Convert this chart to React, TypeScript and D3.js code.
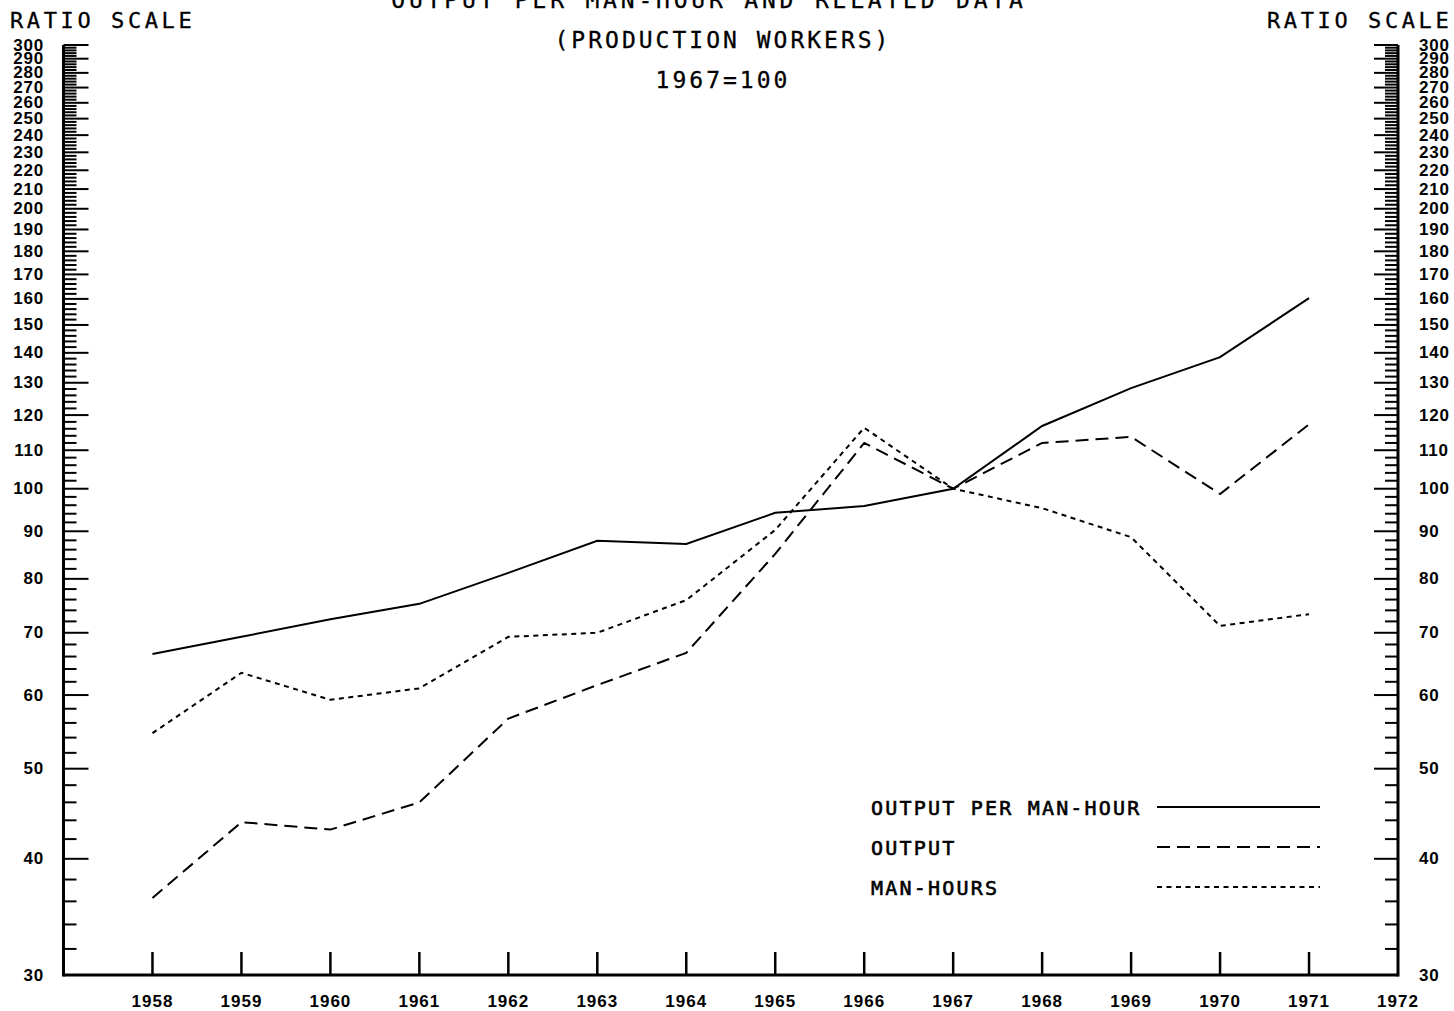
import React from "react";
import * as d3 from "d3";

const years = [1958, 1959, 1960, 1961, 1962, 1963, 1964, 1965, 1966, 1967, 1968, 1969, 1970, 1971];
const outputPerManHour = [66.4, 69.3, 72.4, 75.2, 81.2, 87.9, 87.2, 94.2, 95.8, 100, 116.8, 128.3, 138.5, 160.3];
const output = [36.3, 43.8, 43.0, 46.0, 56.6, 61.5, 66.6, 85.1, 112, 100, 112, 113.7, 98.7, 117.3];
const manHours = [54.6, 63.4, 59.3, 61.0, 69.3, 70.0, 75.9, 90.3, 116.3, 100, 95.3, 88.7, 71.2, 73.3];
const xTickLabels = [1958, 1959, 1960, 1961, 1962, 1963, 1964, 1965, 1966, 1967, 1968, 1969, 1970, 1971, 1972];
const majorTicks = d3.range(30, 301, 10);
const minorTicks = d3.range(30, 301, 2).filter((v) => v % 10 !== 0);
const titleLines = ["OUTPUT PER MAN-HOUR AND RELATED DATA", "(PRODUCTION WORKERS)", "1967=100"];
const seriesNames = ["OUTPUT PER MAN-HOUR", "OUTPUT", "MAN-HOURS"];

const W = 1454;
const H = 1011;
const left = 63.5;
const right = 1398;
const top = 45;
const bottom = 975;

const monoFont = "'DejaVu Sans Mono', monospace";
const numFont = "'Liberation Sans', Arial, sans-serif";

export default function App() {
  const x = d3.scaleLinear().domain([1957, 1972]).range([left, right]);
  const y = d3.scaleLog().domain([30, 300]).range([bottom, top]);

  const series = [
    { name: seriesNames[0], values: outputPerManHour, dash: "none" },
    { name: seriesNames[1], values: output, dash: "13,7" },
    { name: seriesNames[2], values: manHours, dash: "5,4.5" },
  ];

  const line = d3
    .line<[number, number]>()
    .x((d) => x(d[0]))
    .y((d) => y(d[1]));

  const legendTextX = 871;
  const legendLineX1 = 1157;
  const legendLineX2 = 1320;
  const legendY0 = 807;
  const legendStep = 40;

  return (
    <svg
      width={W}
      height={H}
      style={{ position: "absolute", left: 0, top: 0, background: "#fff" }}
    >
      <rect x={0} y={0} width={W} height={H} fill="#fff" />

      {/* Titles */}
      {titleLines.map((t, i) => (
        <text
          key={t}
          x={i === 0 ? 709 : 723}
          y={8 + i * 40}
          textAnchor="middle"
          fontFamily={monoFont}
          fontSize={23}
          letterSpacing={i === 0 ? 3.8 : 3.0}
          stroke="#000"
          strokeWidth={0.3}
          fill="#000"
        >
          {t}
        </text>
      ))}
      <text x={10} y={28} fontFamily={monoFont} fontSize={22} letterSpacing={3.6} stroke="#000" strokeWidth={0.3} fill="#000">
        RATIO SCALE
      </text>
      <text x={1267} y={28} fontFamily={monoFont} fontSize={22} letterSpacing={3.6} stroke="#000" strokeWidth={0.3} fill="#000">
        RATIO SCALE
      </text>

      {/* Axis ticks */}
      {minorTicks.map((v) => (
        <g key={"mn" + v}>
          <line x1={left} x2={left + 13} y1={y(v)} y2={y(v)} stroke="#000" strokeWidth={2} />
          <line x1={right} x2={right - 13} y1={y(v)} y2={y(v)} stroke="#000" strokeWidth={2} />
        </g>
      ))}
      {majorTicks.map((v) => (
        <g key={"mj" + v}>
          {v !== 30 && (
            <>
              <line x1={left} x2={left + 25} y1={y(v)} y2={y(v)} stroke="#000" strokeWidth={2} />
              <line x1={right} x2={right - 24} y1={y(v)} y2={y(v)} stroke="#000" strokeWidth={2} />
            </>
          )}
          <text
            x={44}
            y={y(v)}
            textAnchor="end"
            dominantBaseline="central"
            fontFamily={numFont}
            fontWeight="bold"
            fontSize={17}
            letterSpacing={0.8}
            fill="#000"
          >
            {v}
          </text>
          <text
            x={1419}
            y={y(v)}
            textAnchor="start"
            dominantBaseline="central"
            fontFamily={numFont}
            fontWeight="bold"
            fontSize={17}
            letterSpacing={0.8}
            fill="#000"
          >
            {v}
          </text>
        </g>
      ))}

      {/* Axis lines */}
      <line x1={left} x2={left} y1={top} y2={bottom + 1.5} stroke="#000" strokeWidth={3} />
      <line x1={right} x2={right} y1={top} y2={bottom + 1.5} stroke="#000" strokeWidth={3} />
      <line x1={left} x2={right} y1={bottom} y2={bottom} stroke="#000" strokeWidth={3} />

      {/* X ticks and labels */}
      {years.map((yr) => (
        <line key={"xt" + yr} x1={x(yr)} x2={x(yr)} y1={bottom} y2={bottom - 23} stroke="#000" strokeWidth={2.5} />
      ))}
      {xTickLabels.map((yr) => (
        <text
          key={"xl" + yr}
          x={x(yr)}
          y={1007}
          textAnchor="middle"
          fontFamily={numFont}
          fontWeight="bold"
          fontSize={17}
          letterSpacing={1}
          fill="#000"
        >
          {yr}
        </text>
      ))}

      {/* Series */}
      {series.map((s) => (
        <path
          key={s.name}
          d={line(years.map((yr, i) => [yr, s.values[i]] as [number, number])) || ""}
          fill="none"
          stroke="#000"
          strokeWidth={2}
          strokeDasharray={s.dash}
        />
      ))}

      {/* Legend */}
      {series.map((s, i) => (
        <g key={"lg" + s.name}>
          <text
            x={legendTextX}
            y={legendY0 + i * legendStep + 8}
            fontFamily={monoFont}
            fontSize={20}
            letterSpacing={2.2}
            stroke="#000"
            strokeWidth={0.6}
            fill="#000"
          >
            {s.name}
          </text>
          <line
            x1={legendLineX1}
            x2={legendLineX2}
            y1={legendY0 + i * legendStep}
            y2={legendY0 + i * legendStep}
            stroke="#000"
            strokeWidth={2}
            strokeDasharray={s.dash}
          />
        </g>
      ))}
    </svg>
  );
}
